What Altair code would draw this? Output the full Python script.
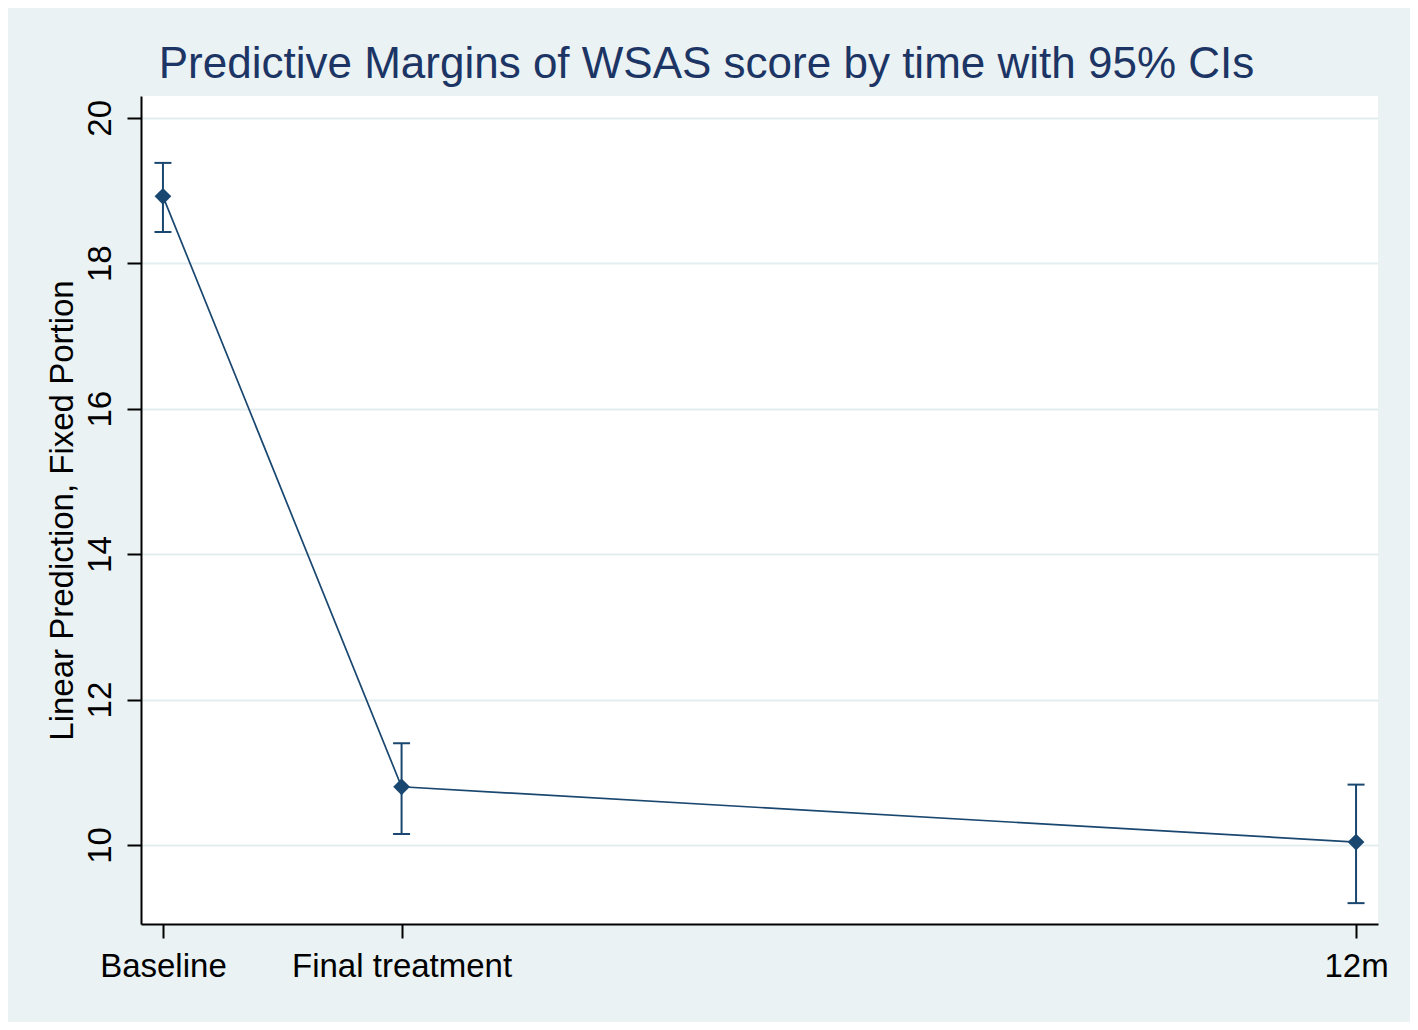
import altair as alt
import pandas as pd

# ---- data ----
time_labels = ["Baseline", "Final treatment", "12m"]
time_pos = [0, 1, 5]
margin = [18.92, 10.80, 10.04]
ci_low = [18.43, 10.15, 9.20]
ci_high = [19.38, 11.40, 10.83]
y_ticks = [10, 12, 14, 16, 18, 20]

df = pd.DataFrame({
    "time": time_pos,
    "label": time_labels,
    "margin": margin,
    "lo": ci_low,
    "hi": ci_high,
})

NAVY = "#1a476f"
FONT = "Liberation Sans"

label_expr = " : ".join(
    f"datum.value == {p} ? '{l}'" for p, l in zip(time_pos, time_labels)
) + " : ''"

x_enc = alt.X(
    "time:Q",
    scale=alt.Scale(domain=[-0.092, 5.092], nice=False, zero=False),
    axis=alt.Axis(
        values=time_pos,
        labelExpr=label_expr,
        title=None,
        grid=False,
        labelAngle=0,
        labelFlush=False,
        labelPadding=12,
        labelOverlap=False,
        labelLimit=600,
    ),
)
y_scale = alt.Scale(domain=[8.913, 20.30], nice=False, zero=False)
y_axis = alt.Axis(
    values=y_ticks,
    title="Linear Prediction, Fixed Portion",
    grid=True,
    gridColor="#e3edef",
    gridWidth=2,
    labelAngle=270,
    labelAlign="center",
    labelBaseline="bottom",
    labelPadding=10,
    titlePadding=5,
    labelOverlap=False,
)

base = alt.Chart(df)

line = base.mark_line(color=NAVY, strokeWidth=1.7).encode(
    x=x_enc, y=alt.Y("margin:Q", scale=y_scale, axis=y_axis)
)
rule = base.mark_rule(color=NAVY, strokeWidth=2).encode(
    x=x_enc, y=alt.Y("lo:Q", scale=y_scale, axis=y_axis), y2="hi:Q"
)
caps = base.transform_fold(["lo", "hi"], as_=["bound", "val"]).mark_tick(
    color=NAVY, orient="horizontal", size=17, thickness=2, opacity=1
).encode(x=x_enc, y=alt.Y("val:Q", scale=y_scale, axis=y_axis))
points = base.mark_point(
    shape="diamond", filled=True, color=NAVY, size=280, opacity=1
).encode(x=x_enc, y=alt.Y("margin:Q", scale=y_scale, axis=y_axis))

chart = (
    alt.layer(line, rule, caps, points)
    .properties(
        width=1237,
        height=828,
        autosize=alt.AutoSizeParams(type="none"),
        padding={"left": 133, "top": 88, "right": 32, "bottom": 98},
        background="#eaf2f3",
        title=alt.TitleParams(
            "Predictive Margins of WSAS score by time with 95% CIs",
            font=FONT,
            fontSize=44,
            fontWeight="normal",
            color="#1c3565",
            anchor="middle",
            frame="group",
            dx=-53,
            dy=46,
            offset=20,
            baseline="alphabetic",
        ),
    )
    .configure_view(fill="white", strokeWidth=0)
    .configure_axis(
        domainColor="black",
        domainWidth=2,
        tickColor="black",
        tickWidth=2,
        tickSize=14,
        labelFont=FONT,
        labelFontSize=33,
        labelColor="black",
        titleFont=FONT,
        titleFontSize=33,
        titleFontWeight="normal",
        titleColor="black",
    )
)

chart.save("out.html", embed_options={"renderer": "svg", "actions": False})
